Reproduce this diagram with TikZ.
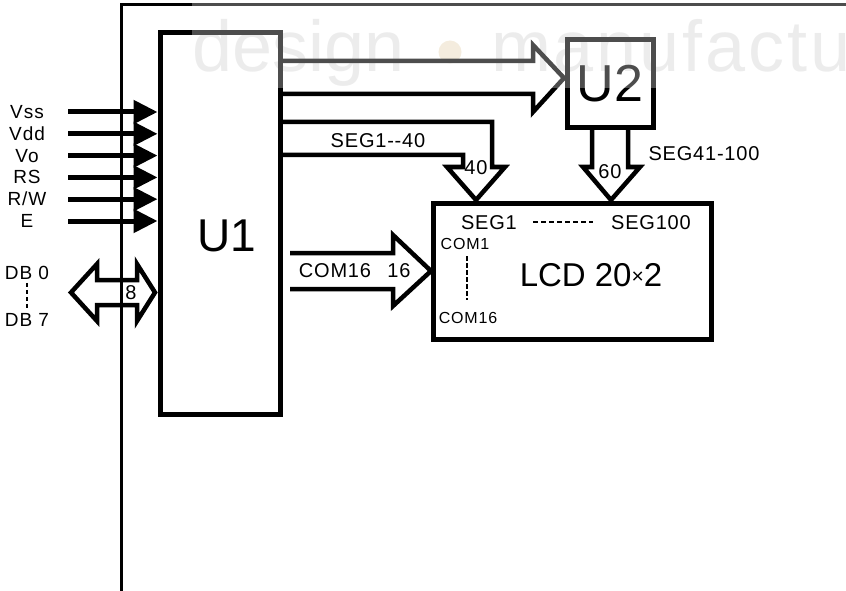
\documentclass[tikz,border=0pt]{standalone}
\usepackage{fontspec}
\setmainfont{Liberation Sans}[Ligatures=TeXOff]
\usetikzlibrary{arrows.meta,positioning,calc}

\definecolor{markbeige}{RGB}{240,229,208}

\begin{document}
\begin{tikzpicture}[x=1pt,y=-1pt,
  chip/.style={draw,line width=5pt,inner sep=0pt,outer sep=0pt},
  bus/.style={draw,line width=4.5pt,line join=miter,miter limit=10},
  pin/.style={line width=5pt,shorten >=3pt,-{Triangle[length=24pt,width=23pt]}},
  dashline/.style={line width=2.5pt,dash pattern=on 4.5pt off 2.5pt},
  lbl/.style={inner sep=0pt,font=\fontsize{20}{22}\selectfont\addfontfeature{LetterSpace=4}},
  pinlbl/.style={inner sep=0pt,font=\fontsize{19}{21}\selectfont\addfontfeature{LetterSpace=5}},
  small/.style={inner sep=0pt,font=\fontsize{16}{18}\selectfont\addfontfeature{LetterSpace=5}},
  wmark/.style={inner sep=0pt,anchor=base west,text=gray!20,font=\fontsize{72}{72}\selectfont}
]
  \useasboundingbox (0,0) rectangle (846,591);
  \clip (0,0) rectangle (846,591);

  % watermark
  \node[wmark] (wm1) at (192,72) {design};
  \node[wmark] (wm2) at (491,72) {\addfontfeature{LetterSpace=4}manufactu};
  \fill[markbeige] (450,52) circle (11.5pt);

  % frame
  \draw[line width=3pt] (846,5) -| (121,591);

  % blocks
  \node[chip,minimum width=120pt,minimum height=382pt] (u1) at (220.5,223.5) {};
  \node[inner sep=0pt,font=\fontsize{46}{46}\selectfont] (u1name) at (227,236) {U1};
  \node[chip,minimum width=86pt,minimum height=88pt,font=\fontsize{52}{52}\selectfont] (u2) at (610,84) {U2};
  \node[chip,minimum width=278pt,minimum height=136pt] (lcd) at (572,271.5) {};

  % control inputs
  \foreach \txt [count=\i] in {Vss,Vdd,Vo,RS,{R/W},E}{
    \pgfmathsetmacro\py{112+(\i-1)*21.8}
    \node[pinlbl] (pin\i) at (27,\py) {\txt};
    \coordinate (p\i) at (68,\py);
    \draw[pin] (p\i) -- (u1.west |- p\i);
  }

  % data bus
  \node[pinlbl] (db0) at (27,273) {DB 0};
  \node[pinlbl] (db7) at (27,320) {DB 7};
  \draw[dashline] ([yshift=-3pt]db0.south) -- ([yshift=5pt]db7.north);
  \coordinate (dbL) at (71,292.5);
  \coordinate (dbR) at (155,292.5);
  \draw[bus] (dbL) -- (97,264) -- (97,280) -- (137,280) -- (137,264) -- (dbR)
    -- (137,321) -- (137,305) -- (97,305) -- (97,321) -- cycle;
  \node[lbl] (dbw) at (131,293) {8};

  % U1 -> U2
  \draw[bus] (u1.east |- 0,61) -- (533,61) -- (533,45) -- (564,78)
    -- (533,112) -- (533,94) -- (u1.east |- 0,94);

  % U1 -> LCD segments
  \coordinate (segtip) at ($(lcd.north -| 476,0)+(0,-3.5)$);
  \draw[bus] (u1.east |- 0,122) -- (492,122) -- (492,167) -- (505,167)
    -- (segtip) -- (447,167) -- (463,167) -- (463,155) -- (u1.east |- 0,155);
  \node[lbl] (seg140) at (378,141) {SEG1--40};
  \node[lbl] (w40) at (476,168) {40};

  % U2 -> LCD segments
  \coordinate (u2tip) at ($(lcd.north -| 611,0)+(0,-3.5)$);
  \draw[bus] (u2.south -| 592,0) -- (592,167) -- (583,167) -- (u2tip)
    -- (640,167) -- (628,167) -- (u2.south -| 628,0);
  \node[lbl] (w60) at (610,172) {60};
  \node[lbl] (seg41) at (704,154) {SEG41-100};

  % U1 -> LCD commons
  \coordinate (comtip) at ($(lcd.west |- 0,271)+(-2,0)$);
  \draw[bus] (290,253) -- (393,253) -- (393,235) -- (comtip)
    -- (393,306) -- (393,289) -- (290,289);
  \node[lbl] (com) at (335,271) {COM16};
  \node[lbl] (w16) at (399,271) {16};

  % LCD contents
  \node[lbl] (seg1) at (489,223) {SEG1};
  \node[lbl] (seg100) at (651,223) {SEG100};
  \draw[dashline,dash pattern=on 5pt off 3pt] (533,222) -- (593,222);
  \node[small] (com1) at (465,244) {COM1};
  \node[small] (com16) at (468,318) {COM16};
  \draw[dashline] (467,256) -- (467,300);
  \node[inner sep=0pt,font=\fontsize{33}{33}\selectfont] (lcdname) at (591,275)
    {LCD 20{\fontsize{21}{21}\selectfont\raisebox{3pt}{×}}2};

  % watermark veil
  \fill[white,opacity=.3] (192,0) rectangle (846,88);
\end{tikzpicture}
\end{document}
